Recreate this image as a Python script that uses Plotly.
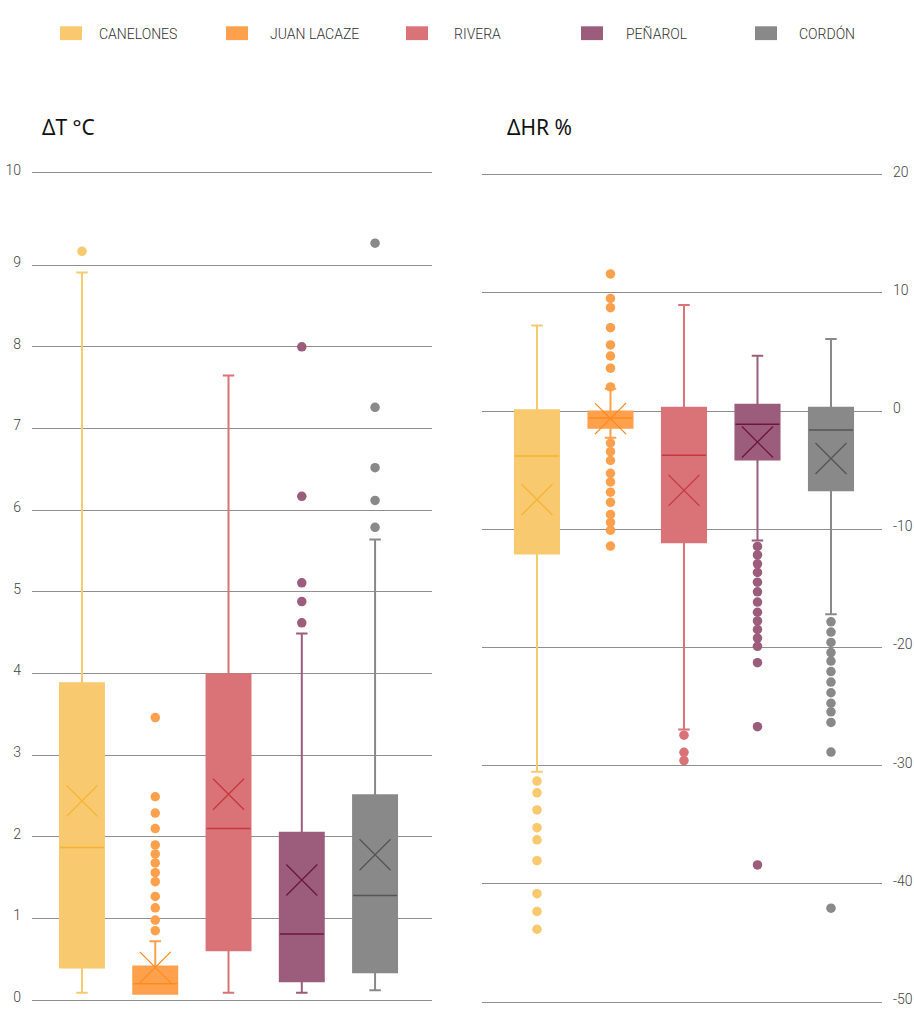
import plotly.graph_objects as go

# ---------------- data ----------------
stations = ["CANELONES", "JUAN LACAZE", "RIVERA", "PEÑAROL", "CORDÓN"]

# Delta T (°C)
dt_lowerfence = [0.09, 0.076, 0.09, 0.09, 0.12]
dt_q1 = [0.40, 0.076, 0.61, 0.23, 0.34]
dt_median = [1.87, 0.20, 2.10, 0.81, 1.28]
dt_q3 = [3.88, 0.41, 3.99, 2.05, 2.51]
dt_upperfence = [8.91, 0.72, 7.65, 4.49, 5.64]
dt_mean = [2.44, 0.40, 2.52, 1.47, 1.78]
dt_outliers = [
    [9.17],
    [3.46, 2.49, 2.29, 2.10, 1.90, 1.79, 1.68, 1.56, 1.45, 1.27, 1.13, 0.98, 0.85],
    [],
    [8.00, 6.17, 5.11, 4.88, 4.62],
    [9.27, 7.26, 6.52, 6.12, 5.79],
]

# Delta HR (%)
hr_lowerfence = [-30.52, -2.26, -26.95, -10.95, -17.19]
hr_q1 = [-12.04, -1.42, -11.09, -4.10, -6.69]
hr_median = [-3.81, -0.58, -3.73, -1.11, -1.59]
hr_q3 = [0.08, -0.03, 0.28, 0.53, 0.28]
hr_upperfence = [7.25, 1.90, 8.98, 4.68, 6.10]
hr_mean = [-7.49, -0.64, -6.71, -2.62, -4.01]
hr_outliers = [
    [-31.3, -32.3, -33.75, -35.25, -36.27, -38.04, -40.83, -42.33, -43.84],
    [11.6, 9.53, 8.75, 7.06, 5.6, 4.66, 3.63, 2.04,
     -2.70, -3.43, -4.18, -5.27, -5.99, -6.86, -7.72, -8.75, -9.42, -10.08, -11.42],
    [-27.42, -28.87, -29.57],
    [-11.45, -12.17, -12.92, -13.65, -14.48, -15.29, -16.16, -17.02, -17.75,
     -18.48, -19.20, -19.90, -21.29, -26.70, -38.40],
    [-17.83, -18.70, -19.57, -20.43, -21.15, -22.04, -22.93, -23.83, -24.72,
     -25.44, -26.34, -28.85, -42.06],
]

dt_tick_labels = ["0", "1", "2", "3", "4", "5", "6", "7", "8", "9", "10"]
hr_tick_values = [-50, -40, -30, -20, -10, 0, 10, 20]
hr_tick_labels = ["-50", "-40", "-30", "-20", "-10", "0", "10", "20"]

# ---------------- styles ----------------
fill_colors = ["#F8C96E", "#FFA04C", "#D97377", "#9C5C7B", "#898989"]
dark_colors = ["#F5B331", "#FF8A1E", "#C8373F", "#6E1640", "#555555"]

BOX_W = 0.60
FONT = "Noto Sans, Open Sans, sans-serif"
LIGHT = "Roboto, Open Sans, sans-serif"

W, H = 914, 1009


def xp(px):
    return px / W


def yp(py):
    return 1 - py / H


fig = go.Figure()


def add_panel(xa, ya, lf, q1, med, q3, uf, mean, outl):
    for i in range(len(stations)):
        c = fill_colors[i]
        d = dark_colors[i]
        fig.add_trace(go.Box(
            x=[i], q1=[q1[i]], median=[med[i]], q3=[q3[i]],
            lowerfence=[lf[i]], upperfence=[uf[i]],
            width=BOX_W, whiskerwidth=0.26, boxpoints=False,
            fillcolor=c, line=dict(color=c, width=2),
            xaxis=xa, yaxis=ya, showlegend=False, hoverinfo="skip",
        ))
        fig.add_trace(go.Scatter(
            x=[i - BOX_W / 2, i + BOX_W / 2], y=[med[i], med[i]],
            mode="lines", line=dict(color=d, width=1.5),
            xaxis=xa, yaxis=ya, showlegend=False, hoverinfo="skip",
        ))
        fig.add_trace(go.Scatter(
            x=[i], y=[mean[i]], mode="markers",
            marker=dict(symbol="x-thin", size=31, line=dict(color=d, width=1.3)),
            xaxis=xa, yaxis=ya, showlegend=False, hoverinfo="skip",
        ))
        if outl[i]:
            fig.add_trace(go.Scatter(
                x=[i] * len(outl[i]), y=outl[i], mode="markers",
                marker=dict(symbol="circle", size=9.5, color=c),
                xaxis=xa, yaxis=ya, showlegend=False, hoverinfo="skip",
            ))


add_panel("x", "y", dt_lowerfence, dt_q1, dt_median, dt_q3, dt_upperfence, dt_mean, dt_outliers)
add_panel("x2", "y2", hr_lowerfence, hr_q1, hr_median, hr_q3, hr_upperfence, hr_mean, hr_outliers)

# left y axis: gridlines 0..9 at 82.63 px/unit, top line (10) slightly higher
PX_T = 82.63
top_t = 9 + (259.3 - 165.7) / PX_T
dt_tickvals = list(range(10)) + [top_t]
yl_range = [-0.03, 10.16]
yl_bottom_px = 1003 + 0.03 * PX_T
yl_top_px = 259.3 - (yl_range[1] - 9) * PX_T

PX_H = 11.961
yr_range = [-50.2, 20.2]
yr_top_px = 167.7 - 0.2 * PX_H
yr_bottom_px = 1005 + 0.2 * PX_H

grid = dict(showgrid=True, gridcolor="#8f8f8f", gridwidth=1, zeroline=False,
            showline=False, ticks="", fixedrange=True)
tickfont = dict(family=LIGHT, size=14, color="#444444", weight=300)

fig.update_layout(
    width=W, height=H,
    margin=dict(l=0, r=0, t=0, b=0),
    paper_bgcolor="white", plot_bgcolor="white",
    showlegend=False,
    xaxis=dict(domain=[xp(32), xp(432)], range=[-0.682, 4.777], visible=False, fixedrange=True),
    xaxis2=dict(domain=[xp(482), xp(882)], range=[-0.748, 4.694], visible=False, fixedrange=True),
    yaxis=dict(domain=[yp(yl_bottom_px), yp(yl_top_px)], range=yl_range,
               tickvals=dt_tickvals, ticktext=dt_tick_labels, tickfont=tickfont,
               ticklabelstandoff=10, ticklabelshift=-3, ticklabeloverflow="allow",
               anchor="x", **grid),
    yaxis2=dict(domain=[yp(yr_bottom_px), yp(yr_top_px)], range=yr_range,
                tickvals=hr_tick_values, ticktext=hr_tick_labels, tickfont=tickfont,
                side="right", ticklabelstandoff=10, ticklabelshift=-3,
                ticklabeloverflow="allow", anchor="x2", **grid),
)

# panel titles
for txt, x0 in (("ΔT °C", 40), ("ΔHR %", 505)):
    fig.add_annotation(text=txt, x=xp(x0), y=yp(119), xref="paper", yref="paper",
                       xanchor="left", yanchor="middle", showarrow=False,
                       font=dict(family=FONT, size=21, color="#111111"))

# custom legend
sw_x = [60, 226, 406, 581, 755]
tx_x = [97, 268, 452, 624, 797]
for i, name in enumerate(stations):
    fig.add_shape(type="rect", xref="paper", yref="paper",
                  x0=xp(sw_x[i]), x1=xp(sw_x[i] + 22),
                  y0=yp(31.5), y1=yp(17.5),
                  fillcolor=fill_colors[i], line=dict(width=0))
    fig.add_annotation(text=name, x=xp(tx_x[i]), y=yp(25), xref="paper", yref="paper",
                       xanchor="left", yanchor="middle", showarrow=False,
                       font=dict(family=LIGHT, size=14, color="#333333", weight=300))

# pin the plot to the page's top-left corner (no body margin)
post = ("document.body.style.margin='0';document.body.style.overflow='hidden';"
        "var d=document.getElementById('{plot_id}');"
        "d.style.position='absolute';d.style.left='0px';d.style.top='0px';")

fig.write_html("out.html", post_script=post, config={"displayModeBar": False})
